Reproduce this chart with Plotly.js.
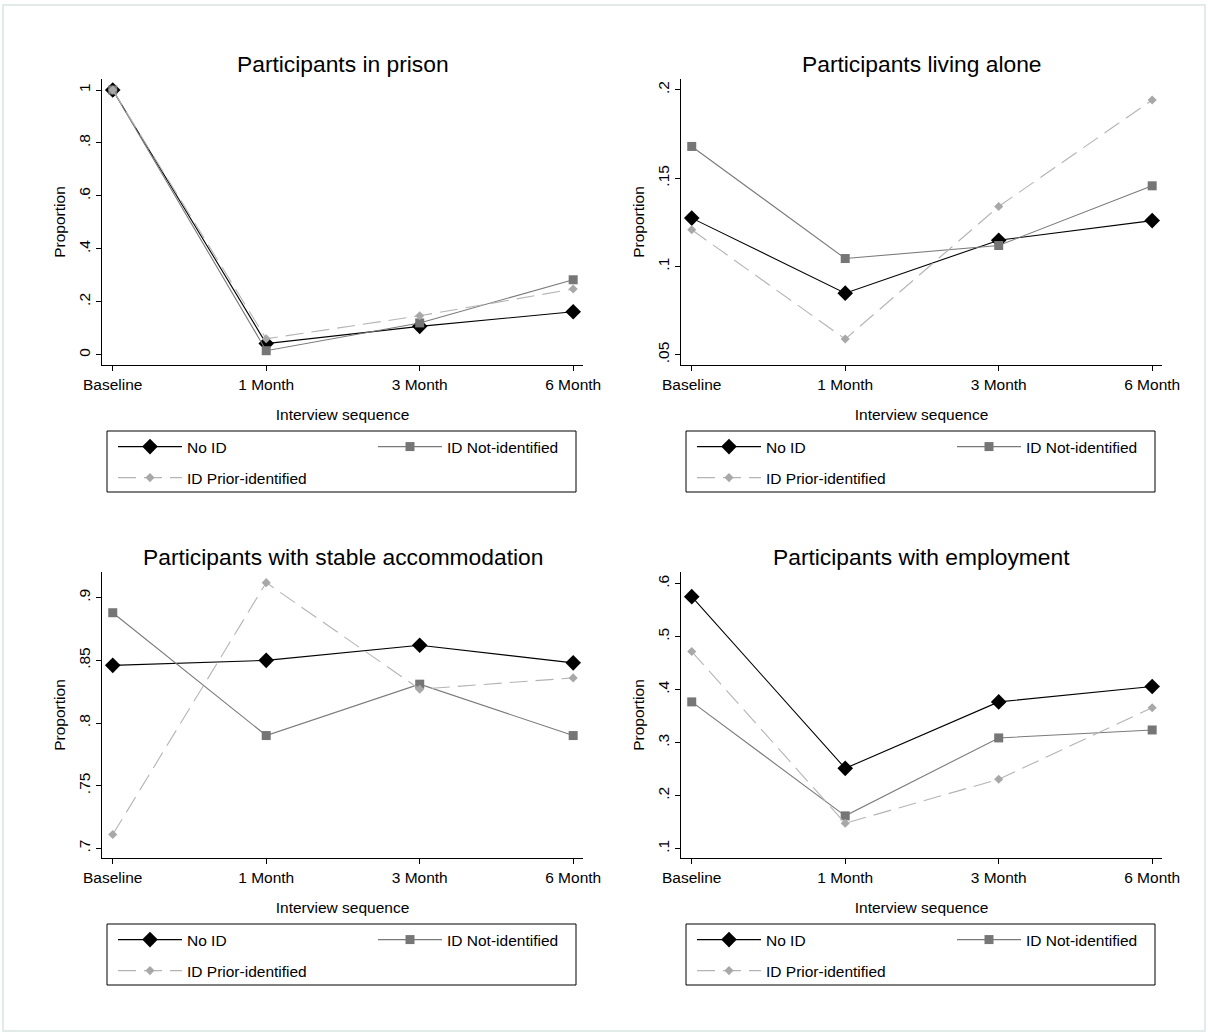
<!DOCTYPE html>
<html>
<head>
<meta charset="utf-8">
<script src="https://cdn.plot.ly/plotly-3.0.1.min.js"></script>
<style>html,body{margin:0;padding:0;background:#fff;}#chart{width:1208px;height:1034px;}</style>
</head>
<body>
<div id="chart"></div>
<script>
// ---- data ----
const categories = ['Baseline', '1 Month', '3 Month', '6 Month'];
const seriesNames = ['No ID', 'ID Not-identified', 'ID Prior-identified'];

const panelTitles = ['Participants in prison', 'Participants living alone',
                     'Participants with stable accommodation', 'Participants with employment'];

const prisonNoID   = [1.000, 0.042, 0.107, 0.162];
const prisonNotId  = [1.000, 0.015, 0.120, 0.283];
const prisonPrior  = [1.000, 0.060, 0.147, 0.248];

const aloneNoID    = [0.1274, 0.0849, 0.1149, 0.1260];
const aloneNotId   = [0.1680, 0.1045, 0.1119, 0.1457];
const alonePrior   = [0.1208, 0.0589, 0.1340, 0.1943];

const stableNoID   = [0.846, 0.850, 0.862, 0.848];
const stableNotId  = [0.888, 0.790, 0.831, 0.790];
const stablePrior  = [0.711, 0.912, 0.827, 0.836];

const employNoID   = [0.5755, 0.2516, 0.377, 0.406];
const employNotId  = [0.377, 0.162, 0.309, 0.324];
const employPrior  = [0.472, 0.148, 0.231, 0.366];

const prisonTickVals = [0, 0.2, 0.4, 0.6, 0.8, 1];
const prisonTickText = ['0', '.2', '.4', '.6', '.8', '1'];
const aloneTickVals  = [0.05, 0.1, 0.15, 0.2];
const aloneTickText  = ['.05', '.1', '.15', '.2'];
const stableTickVals = [0.7, 0.75, 0.8, 0.85, 0.9];
const stableTickText = ['.7', '.75', '.8', '.85', '.9'];
const employTickVals = [0.1, 0.2, 0.3, 0.4, 0.5, 0.6];
const employTickText = ['.1', '.2', '.3', '.4', '.5', '.6'];

// ---- geometry helpers ----
const W = 1208, H = 1034;
const px = v => v / W;
const py = v => 1 - v / H;

const FONT = 'Liberation Sans, Arial, sans-serif';

const styles = [
  {line: {color: '#000000', width: 1.1}, marker: {symbol: 'diamond', size: 12, color: '#000000'}},
  {line: {color: '#7a7a7a', width: 1.1}, marker: {symbol: 'square', size: 9, color: '#767676'}},
  {line: {color: '#b4b4b4', width: 1.1, dash: '18px,8px'}, marker: {symbol: 'diamond', size: 7, color: '#a8a8a8'}}
];

// legend entry offsets relative to the panel's left edge / bottom edge
const entryDX = [11, 271, 11];
const entryDY = [82, 82, 113];

const panels = [
  {series: [prisonNoID, prisonNotId, prisonPrior], tv: prisonTickVals, tt: prisonTickText,
   yr: [-0.039, 1.0416], left: 102, right: 583, top: 79, bottom: 365},
  {series: [aloneNoID, aloneNotId, alonePrior], tv: aloneTickVals, tt: aloneTickText,
   yr: [0.0442, 0.2062], left: 681, right: 1162, top: 79, bottom: 365},
  {series: [stableNoID, stableNotId, stablePrior], tv: stableTickVals, tt: stableTickText,
   yr: [0.6923, 0.9205], left: 102, right: 583, top: 572, bottom: 858},
  {series: [employNoID, employNotId, employPrior], tv: employTickVals, tt: employTickText,
   yr: [0.0825, 0.622], left: 681, right: 1162, top: 572, bottom: 858}
];

const traces = [];
const layout = {
  width: W, height: H,
  margin: {l: 0, r: 0, t: 0, b: 0},
  paper_bgcolor: '#ffffff', plot_bgcolor: '#ffffff',
  font: {family: FONT, color: '#000000'},
  showlegend: true,
  annotations: [], shapes: []
};

// outer frame
layout.shapes.push({type: 'rect', xref: 'paper', yref: 'paper',
  x0: px(3), x1: px(1205), y0: py(1031), y1: py(5),
  line: {color: '#e3eaea', width: 2}});

let legendCount = 0;

panels.forEach((p, i) => {
  const n = i + 1;
  const xa = n === 1 ? 'xaxis' : 'xaxis' + n;
  const ya = n === 1 ? 'yaxis' : 'yaxis' + n;
  const xr = n === 1 ? 'x' : 'x' + n;
  const yr = n === 1 ? 'y' : 'y' + n;

  p.series.forEach((vals, s) => {
    legendCount += 1;
    const lg = legendCount === 1 ? 'legend' : 'legend' + legendCount;
    traces.push({
      type: 'scatter', mode: 'lines+markers',
      x: categories, y: vals, name: seriesNames[s],
      xaxis: xr, yaxis: yr, legend: lg,
      line: styles[s].line, marker: styles[s].marker,
      hoverinfo: 'x+y+name'
    });
    layout[lg] = {
      x: px(p.left + entryDX[s]), y: py(p.bottom + entryDY[s]),
      xanchor: 'left', yanchor: 'middle',
      orientation: 'v', itemwidth: 64,
      bgcolor: 'rgba(0,0,0,0)', borderwidth: 0,
      font: {family: FONT, size: 15.5, color: '#000000'},
      itemclick: false, itemdoubleclick: false
    };
  });

  layout[xa] = {
    domain: [px(p.left), px(p.right)],
    anchor: yr, type: 'category', range: [-0.07, 3.064],
    showline: true, linecolor: '#000000', linewidth: 1, mirror: false,
    ticks: 'outside', ticklen: 5, tickcolor: '#000000', tickwidth: 1,
    showgrid: false, zeroline: false,
    tickfont: {family: FONT, size: 15.5, color: '#000000'},
    title: {text: 'Interview sequence', font: {family: FONT, size: 15.5, color: '#000000'}, standoff: 17},
    fixedrange: true
  };
  layout[ya] = {
    domain: [py(p.bottom), py(p.top)],
    anchor: xr, range: p.yr,
    tickvals: p.tv, ticktext: p.tt, tickangle: -90,
    showline: true, linecolor: '#000000', linewidth: 1, mirror: false,
    ticks: 'outside', ticklen: 5, tickcolor: '#000000', tickwidth: 1,
    showgrid: false, zeroline: false,
    tickfont: {family: FONT, size: 15.5, color: '#000000'},
    title: {text: 'Proportion', font: {family: FONT, size: 15.5, color: '#000000'}, standoff: 6},
    fixedrange: true
  };

  // subplot title
  layout.annotations.push({
    xref: 'paper', yref: 'paper',
    x: px((p.left + p.right) / 2),
    y: py(p.top - 15), xanchor: 'center', yanchor: 'middle',
    text: panelTitles[i], showarrow: false,
    font: {family: FONT, size: 22.8, color: '#000000'}
  });

  // legend box
  const bx0 = p.left + 5, bx1 = p.left + 474, by0 = p.bottom + 66, by1 = p.bottom + 127;
  layout.shapes.push({type: 'rect', xref: 'paper', yref: 'paper',
    x0: px(bx0), x1: px(bx1), y0: py(by1), y1: py(by0),
    line: {color: '#000000', width: 1}, fillcolor: 'rgba(0,0,0,0)'});
});

Plotly.newPlot('chart', traces, layout, {displayModeBar: false, staticPlot: true});
</script>
</body>
</html>
